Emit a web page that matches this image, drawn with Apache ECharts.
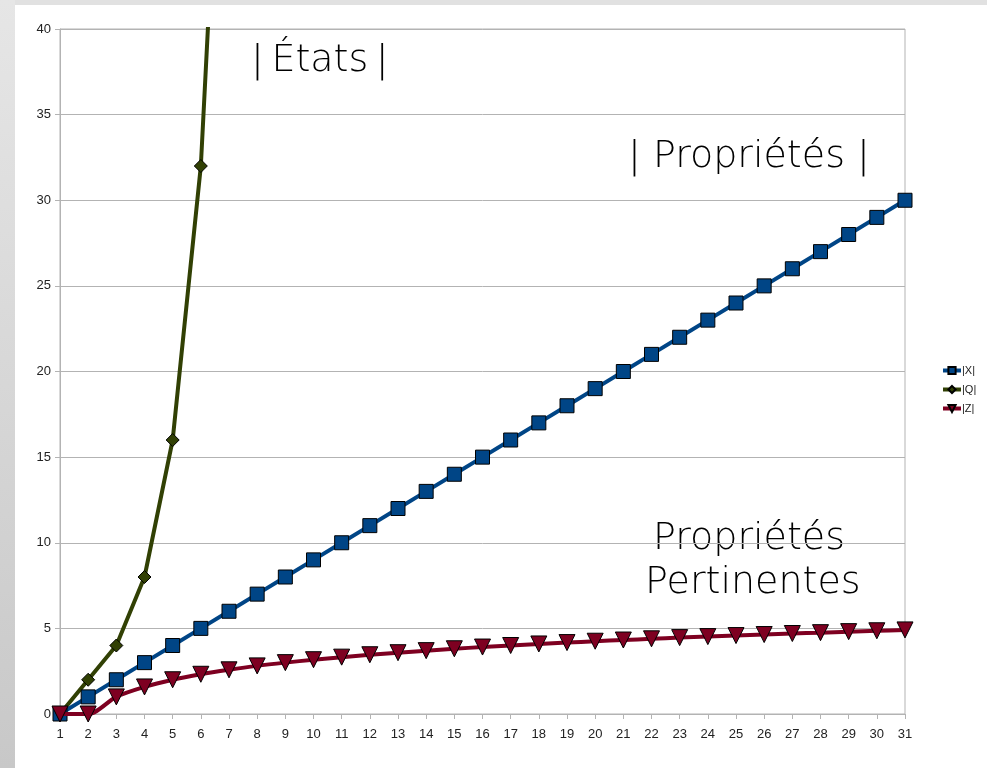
<!DOCTYPE html>
<html>
<head>
<meta charset="utf-8">
<script src="https://cdn.jsdelivr.net/npm/echarts@6/dist/echarts.min.js"></script>
<style>
  html, body { margin: 0; padding: 0; }
  #chart { width: 987px; height: 768px; }
</style>
</head>
<body>
<div id="chart"></div>
<script>
const categories = ['1','2','3','4','5','6','7','8','9','10','11','12','13','14','15','16',
  '17','18','19','20','21','22','23','24','25','26','27','28','29','30','31'];

// |X| : propriétés
const xValues = [0,1,2,3,4,5,6,7,8,9,10,11,12,13,14,15,16,17,18,19,20,21,22,23,24,25,26,27,28,29,30];
// |Q| : états (goes off the top after 6)
const qValues = [0,2,4,8,16,32,64,128,256];
// |Z| : propriétés pertinentes
const zValues = [0,0,1,1.58,2,2.32,2.58,2.81,3,3.17,3.32,3.46,3.58,3.7,3.81,3.91,
  4,4.09,4.17,4.25,4.32,4.39,4.46,4.52,4.58,4.64,4.7,4.75,4.81,4.86,4.91];

const yTicks = { min: 0, max: 40, interval: 5 };

const chart = echarts.init(document.getElementById('chart'));

const labelFont = 'Liberation Sans, Arial, sans-serif';
const titleFont = '"DejaVu Sans", sans-serif';
const titleStyle = '200 38px ' + titleFont;
const gridColor = '#b3b3b3';

const option = {
  animation: false,
  backgroundColor: '#ffffff',
  graphic: [
    // grey frame around the sheet
    { type: 'rect', shape: { x: 0, y: 0, width: 987, height: 5 }, style: { fill: '#e1e1e1' }, silent: true, z: -10 },
    {
      type: 'rect', shape: { x: 0, y: 0, width: 15, height: 768 }, silent: true, z: -10,
      style: {
        fill: new echarts.graphic.LinearGradient(0, 0, 0, 1, [
          { offset: 0, color: '#e6e6e6' },
          { offset: 1, color: '#c8c8c8' }
        ])
      }
    },
    { type: 'text', left: 251, top: 42, style: { text: '|\u2009États\u2009|', font: titleStyle, fill: '#000' } },
    { type: 'text', left: 628, top: 138, style: { text: '| Propriétés |', font: titleStyle, fill: '#000' } },
    { type: 'text', left: 653, top: 520, style: { text: 'Propriétés', font: titleStyle, fill: '#000' } },
    { type: 'text', left: 645, top: 564, style: { text: 'Pertinentes', font: titleStyle, fill: '#000' } }
  ],
  grid: {
    left: 60, right: 82, top: 29, bottom: 54,
    show: true, borderColor: gridColor, borderWidth: 1
  },
  legend: {
    orient: 'vertical',
    left: 936,
    top: 360,
    itemWidth: 18,
    itemHeight: 9,
    itemGap: 8,
    lineStyle: { width: 4 },
    textStyle: { fontFamily: labelFont, fontSize: 11, color: '#222', padding: [0, 0, 0, -4] },
    data: ['|X|', '|Q|', '|Z|']
  },
  xAxis: {
    type: 'category',
    data: categories,
    boundaryGap: false,
    axisLine: { lineStyle: { color: gridColor } },
    axisTick: { show: true, length: 5, lineStyle: { color: gridColor } },
    axisLabel: { color: '#222', fontFamily: labelFont, fontSize: 13, margin: 14, interval: 0 },
    splitLine: { show: false }
  },
  yAxis: {
    type: 'value',
    min: yTicks.min,
    max: yTicks.max,
    interval: yTicks.interval,
    axisLine: { show: true, lineStyle: { color: gridColor } },
    axisTick: { show: true, length: 5, lineStyle: { color: gridColor } },
    axisLabel: { color: '#222', fontFamily: labelFont, fontSize: 13, margin: 9 },
    splitLine: { lineStyle: { color: gridColor } }
  },
  series: [
    {
      name: '|X|',
      type: 'line',
      data: xValues,
      symbol: 'rect',
      symbolSize: 14,
      lineStyle: { color: '#004586', width: 4 },
      itemStyle: { color: '#004586', borderColor: '#000', borderWidth: 1 },
      z: 3
    },
    {
      name: '|Q|',
      type: 'line',
      data: qValues,
      symbol: 'diamond',
      symbolSize: 13,
      lineStyle: { color: '#314004', width: 4 },
      itemStyle: { color: '#314004', borderColor: '#000', borderWidth: 1 },
      z: 2
    },
    {
      name: '|Z|',
      type: 'line',
      data: zValues,
      symbol: 'triangle',
      symbolRotate: 180,
      symbolSize: 16,
      smooth: 0.3,
      lineStyle: { color: '#7e0021', width: 4 },
      itemStyle: { color: '#7e0021', borderColor: '#000', borderWidth: 1 },
      z: 4
    }
  ]
};

chart.setOption(option);
</script>
</body>
</html>
